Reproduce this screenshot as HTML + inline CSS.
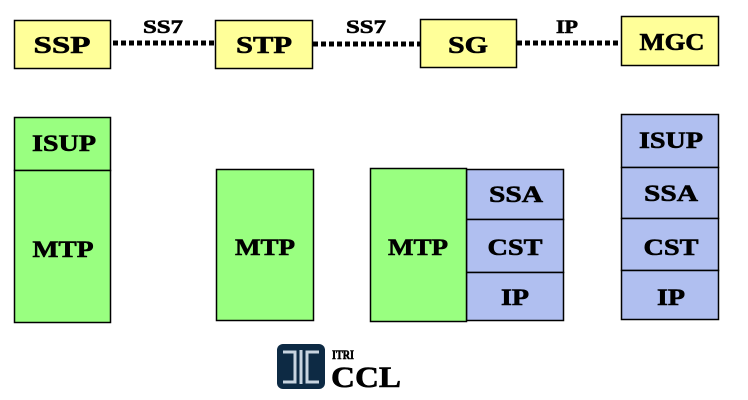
<!DOCTYPE html>
<html><head><meta charset="utf-8"><style>
html,body{margin:0;padding:0;background:#fff;}
svg{display:block;}
text{font-family:"Liberation Serif",serif;font-weight:bold;fill:#000;stroke:#000;stroke-width:0.6;}
</style></head><body>
<svg width="748" height="400" viewBox="0 0 748 400" xmlns="http://www.w3.org/2000/svg">
<g stroke="#000" stroke-width="1.5">
<rect x="14.5" y="20.5" width="96" height="48" fill="#ffff99"/>
<rect x="215.5" y="20.5" width="97" height="48" fill="#ffff99"/>
<rect x="420.5" y="19.5" width="96" height="48" fill="#ffff99"/>
<rect x="621.5" y="16.5" width="97" height="49" fill="#ffff99"/>
</g>
<g stroke="#000" stroke-width="5" stroke-dasharray="5,3">
<line x1="113" y1="43" x2="215" y2="43"/>
<line x1="313" y1="44" x2="420" y2="44"/>
<line x1="517" y1="43" x2="621" y2="43"/>
</g>
<g font-size="24" text-anchor="middle" lengthAdjust="spacingAndGlyphs">
<text x="62" y="53" textLength="57" lengthAdjust="spacingAndGlyphs">SSP</text>
<text x="264" y="53" textLength="56" lengthAdjust="spacingAndGlyphs">STP</text>
<text x="468" y="53" textLength="40" lengthAdjust="spacingAndGlyphs">SG</text>
<text x="672" y="50" textLength="65" lengthAdjust="spacingAndGlyphs">MGC</text>
</g>
<g font-size="19" text-anchor="middle">
<text x="163" y="33" textLength="40" lengthAdjust="spacingAndGlyphs">SS7</text>
<text x="366" y="33" textLength="40" lengthAdjust="spacingAndGlyphs">SS7</text>
<text x="567" y="33" textLength="22" lengthAdjust="spacingAndGlyphs">IP</text>
</g>
<g stroke="#000" stroke-width="1.5">
<rect x="14.5" y="117.5" width="96" height="53" fill="#99ff80"/>
<rect x="14.5" y="170.5" width="96" height="152" fill="#99ff80"/>
<rect x="216.5" y="169.5" width="97" height="151" fill="#99ff80"/>
<rect x="466.5" y="169.5" width="97" height="50" fill="#b0bff0"/>
<rect x="466.5" y="219.5" width="97" height="53" fill="#b0bff0"/>
<rect x="466.5" y="272.5" width="97" height="48" fill="#b0bff0"/>
<rect x="370.5" y="168.5" width="96" height="153" fill="#99ff80"/>
<rect x="621.5" y="114.5" width="97" height="53" fill="#b0bff0"/>
<rect x="621.5" y="167.5" width="97" height="51" fill="#b0bff0"/>
<rect x="621.5" y="218.5" width="97" height="52" fill="#b0bff0"/>
<rect x="621.5" y="270.5" width="97" height="49" fill="#b0bff0"/>
</g>
<g font-size="23" text-anchor="middle">
<text x="64" y="151" textLength="64" lengthAdjust="spacingAndGlyphs">ISUP</text>
<text x="63" y="257" textLength="61" lengthAdjust="spacingAndGlyphs">MTP</text>
<text x="265" y="255" textLength="60" lengthAdjust="spacingAndGlyphs">MTP</text>
<text x="418" y="255" textLength="60" lengthAdjust="spacingAndGlyphs">MTP</text>
<text x="516" y="202" textLength="54" lengthAdjust="spacingAndGlyphs">SSA</text>
<text x="515" y="255" textLength="55" lengthAdjust="spacingAndGlyphs">CST</text>
<text x="515" y="305" textLength="28" lengthAdjust="spacingAndGlyphs">IP</text>
<text x="671" y="148" textLength="64" lengthAdjust="spacingAndGlyphs">ISUP</text>
<text x="671" y="201" textLength="54" lengthAdjust="spacingAndGlyphs">SSA</text>
<text x="671" y="255" textLength="55" lengthAdjust="spacingAndGlyphs">CST</text>
<text x="671" y="305" textLength="28" lengthAdjust="spacingAndGlyphs">IP</text>
</g>
<rect x="277" y="344" width="48" height="45" rx="6" fill="#0d2a44"/>
<g stroke="#c8d4e0" stroke-width="3" fill="none">
<path d="M283 352 H295 V382 H283"/>
<path d="M319 352 H307 V382 H319"/>
<line x1="301" y1="350" x2="301" y2="384"/>
</g>
<text x="332" y="359" font-size="13" textLength="22" lengthAdjust="spacingAndGlyphs">ITRI</text>
<text x="331" y="387" font-size="30" textLength="70" lengthAdjust="spacingAndGlyphs">CCL</text>
</svg>
</body></html>
